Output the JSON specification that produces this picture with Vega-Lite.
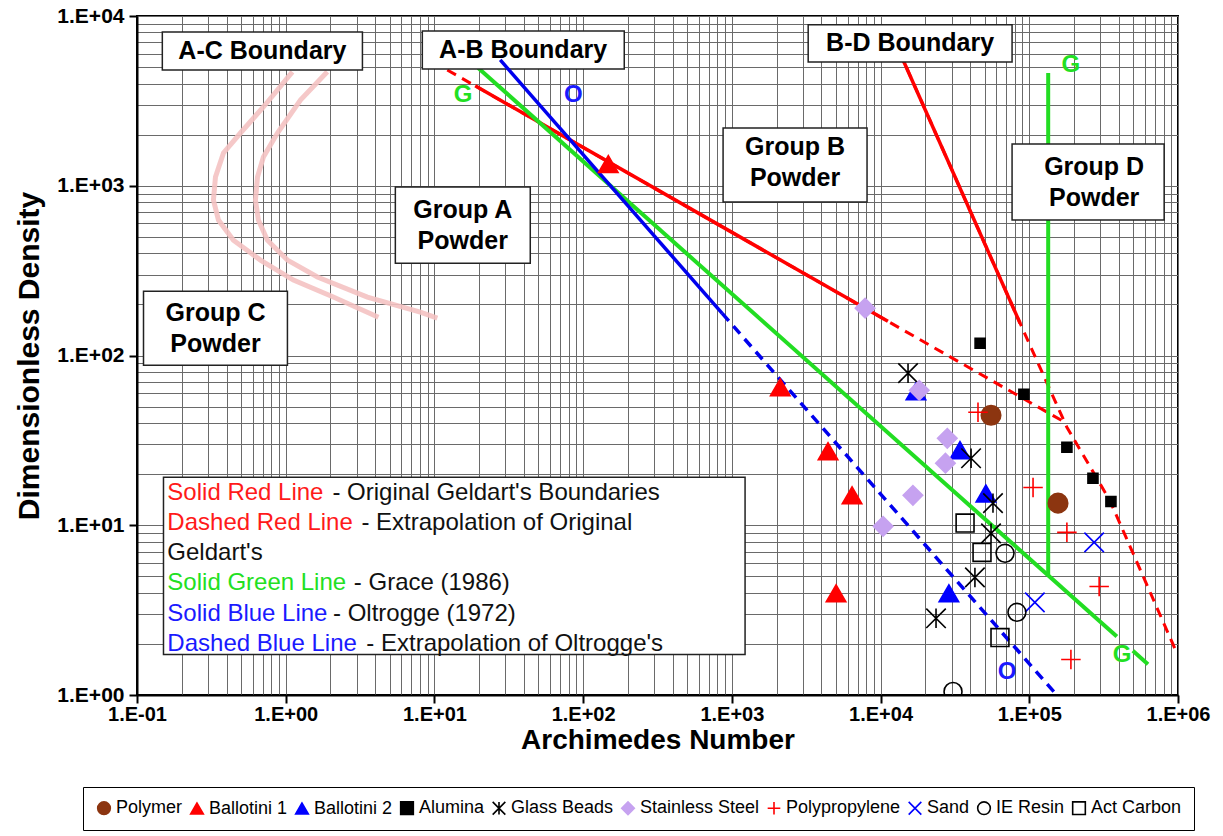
{
  "$schema": "https://vega.github.io/schema/vega-lite/v6.json",
  "width": 1041,
  "height": 679,
  "autosize": {"type": "none"},
  "padding": {"left": 137, "top": 16, "right": 45, "bottom": 141},
  "background": "white",
  "datasets": {
    "lines": [
      {"line": "AC", "seg": "AC1", "i": 1, "x": 1.109, "y": 4690},
      {"line": "AC", "seg": "AC1", "i": 2, "x": 0.708, "y": 2911},
      {"line": "AC", "seg": "AC1", "i": 3, "x": 0.496, "y": 2046},
      {"line": "AC", "seg": "AC1", "i": 4, "x": 0.3815, "y": 1560},
      {"line": "AC", "seg": "AC1", "i": 5, "x": 0.337, "y": 1125},
      {"line": "AC", "seg": "AC1", "i": 6, "x": 0.3266, "y": 824},
      {"line": "AC", "seg": "AC1", "i": 7, "x": 0.353, "y": 628},
      {"line": "AC", "seg": "AC1", "i": 8, "x": 0.445, "y": 478},
      {"line": "AC", "seg": "AC1", "i": 9, "x": 0.676, "y": 365},
      {"line": "AC", "seg": "AC1", "i": 10, "x": 1.127, "y": 278},
      {"line": "AC", "seg": "AC1", "i": 11, "x": 2.09, "y": 221},
      {"line": "AC", "seg": "AC1", "i": 12, "x": 4.2, "y": 168},
      {"line": "AC", "seg": "AC2", "i": 1, "x": 1.905, "y": 4690},
      {"line": "AC", "seg": "AC2", "i": 2, "x": 1.256, "y": 3200},
      {"line": "AC", "seg": "AC2", "i": 3, "x": 0.88, "y": 2046},
      {"line": "AC", "seg": "AC2", "i": 4, "x": 0.708, "y": 1476},
      {"line": "AC", "seg": "AC2", "i": 5, "x": 0.646, "y": 1125},
      {"line": "AC", "seg": "AC2", "i": 6, "x": 0.626, "y": 824},
      {"line": "AC", "seg": "AC2", "i": 7, "x": 0.655, "y": 628},
      {"line": "AC", "seg": "AC2", "i": 8, "x": 0.753, "y": 478},
      {"line": "AC", "seg": "AC2", "i": 9, "x": 1.027, "y": 365},
      {"line": "AC", "seg": "AC2", "i": 10, "x": 1.633, "y": 290},
      {"line": "AC", "seg": "AC2", "i": 11, "x": 3.54, "y": 221},
      {"line": "AC", "seg": "AC2", "i": 12, "x": 8.04, "y": 180},
      {"line": "AC", "seg": "AC2", "i": 13, "x": 10.46, "y": 166},
      {"line": "GeldartSolid", "seg": "AB", "i": 1, "x": 18.8, "y": 3880},
      {"line": "GeldartSolid", "seg": "AB", "i": 2, "x": 11200, "y": 159},
      {"line": "GeldartSolid", "seg": "BD", "i": 1, "x": 13500, "y": 6060},
      {"line": "GeldartSolid", "seg": "BD", "i": 2, "x": 86700, "y": 155},
      {"line": "GeldartDashed", "seg": "AB", "i": 1, "x": 12.2, "y": 4810},
      {"line": "GeldartDashed", "seg": "AB", "i": 2, "x": 178000, "y": 39.9},
      {"line": "GeldartDashed", "seg": "BD", "i": 1, "x": 13500, "y": 6060},
      {"line": "GeldartDashed", "seg": "BD", "i": 2, "x": 86700, "y": 155},
      {"line": "GeldartDashed", "seg": "BD", "i": 3, "x": 179000, "y": 37.8},
      {"line": "GeldartDashed", "seg": "BD", "i": 4, "x": 348000, "y": 14.0},
      {"line": "GeldartDashed", "seg": "BD", "i": 5, "x": 984000, "y": 1.76},
      {"line": "Grace", "seg": "diag1", "i": 1, "x": 19.7, "y": 4940},
      {"line": "Grace", "seg": "diag1", "i": 2, "x": 388000, "y": 2.21},
      {"line": "Grace", "seg": "diag2", "i": 1, "x": 497000, "y": 1.82},
      {"line": "Grace", "seg": "diag2", "i": 2, "x": 628000, "y": 1.52},
      {"line": "Grace", "seg": "vert", "i": 1, "x": 134000, "y": 4620},
      {"line": "Grace", "seg": "vert", "i": 2, "x": 134000, "y": 5.1},
      {"line": "OltroggeSolid", "seg": "O1", "i": 1, "x": 27.7, "y": 5510},
      {"line": "OltroggeSolid", "seg": "O1", "i": 2, "x": 861, "y": 177},
      {"line": "OltroggeDashed", "seg": "O2", "i": 1, "x": 861, "y": 177},
      {"line": "OltroggeDashed", "seg": "O2", "i": 2, "x": 153000, "y": 1.0}
    ],
    "boxes": [
      {"name": "A-C", "x": 0.148, "x2": 3.28, "y": 4810, "y2": 8060},
      {"name": "A-B", "x": 8.29, "x2": 189, "y": 4876, "y2": 8170},
      {"name": "B-D", "x": 3260, "x2": 76600, "y": 5360, "y2": 8870},
      {"name": "Group A", "x": 5.46, "x2": 44.1, "y": 350, "y2": 983},
      {"name": "Group B", "x": 873, "x2": 8110, "y": 801, "y2": 2188},
      {"name": "Group C", "x": 0.1106, "x2": 1.027, "y": 87.7, "y2": 239},
      {"name": "Group D", "x": 76600, "x2": 807000, "y": 628, "y2": 1762},
      {"name": "Key", "x": 0.1507, "x2": 1227, "y": 1.733, "y2": 19.2}
    ],
    "labels": [
      {"kind": "box", "line": "note", "text": "A-C Boundary", "x": 0.697, "y": 6230},
      {"kind": "box", "line": "note", "text": "A-B Boundary", "x": 39.5, "y": 6310},
      {"kind": "box", "line": "note", "text": "B-D Boundary", "x": 15800, "y": 6940},
      {"kind": "box2", "line": "note", "text": "Group A\nPowder", "x": 15.5, "y": 587},
      {"kind": "box2", "line": "note", "text": "Group B\nPowder", "x": 2660, "y": 1380},
      {"kind": "box2", "line": "note", "text": "Group C\nPowder", "x": 0.337, "y": 145},
      {"kind": "box2", "line": "note", "text": "Group D\nPowder", "x": 273000, "y": 1052},
      {"kind": "tag", "line": "Grace", "text": "G", "x": 15.6, "y": 3428},
      {"kind": "tag", "line": "Oltrogge", "text": "O", "x": 85.9, "y": 3428},
      {"kind": "tag", "line": "Grace", "text": "G", "x": 190500, "y": 5150},
      {"kind": "tag", "line": "Grace", "text": "G", "x": 420000, "y": 1.73},
      {"kind": "tag", "line": "Oltrogge", "text": "O", "x": 70800, "y": 1.357},
      {"kind": "key", "line": "Geldart", "text": "Solid Red Line", "x": 0.16, "y": 15.4},
      {"kind": "key", "line": "note", "text": "- Original Geldart's Boundaries", "x": 2.06, "y": 15.4},
      {"kind": "key", "line": "Geldart", "text": "Dashed Red Line", "x": 0.16, "y": 10.26},
      {"kind": "key", "line": "note", "text": "- Extrapolation of Original", "x": 3.23, "y": 10.26},
      {"kind": "key", "line": "note", "text": "Geldart's", "x": 0.16, "y": 6.83},
      {"kind": "key", "line": "Grace", "text": "Solid Green Line", "x": 0.16, "y": 4.54},
      {"kind": "key", "line": "note", "text": "- Grace (1986)", "x": 2.87, "y": 4.54},
      {"kind": "key", "line": "Oltrogge", "text": "Solid Blue Line", "x": 0.16, "y": 3.02},
      {"kind": "key", "line": "note", "text": "- Oltrogge (1972)", "x": 2.08, "y": 3.02},
      {"kind": "key", "line": "Oltrogge", "text": "Dashed Blue Line", "x": 0.16, "y": 2.01},
      {"kind": "key", "line": "note", "text": "- Extrapolation of Oltrogge's", "x": 3.485, "y": 2.01}
    ],
    "points": [
      {"material": "Polymer", "x": 55300, "y": 44.5},
      {"material": "Polymer", "x": 156000, "y": 13.5},
      {"material": "Ballotini 1", "x": 147.6, "y": 1343},
      {"material": "Ballotini 1", "x": 2115, "y": 65.0},
      {"material": "Ballotini 1", "x": 4436, "y": 27.3},
      {"material": "Ballotini 1", "x": 6430, "y": 15.0},
      {"material": "Ballotini 1", "x": 5020, "y": 3.97},
      {"material": "Ballotini 2", "x": 17300, "y": 61.6},
      {"material": "Ballotini 2", "x": 34200, "y": 27.7},
      {"material": "Ballotini 2", "x": 51100, "y": 15.4},
      {"material": "Ballotini 2", "x": 28800, "y": 3.97},
      {"material": "Alumina", "x": 46700, "y": 118},
      {"material": "Alumina", "x": 92000, "y": 59.1},
      {"material": "Alumina", "x": 179000, "y": 28.8},
      {"material": "Alumina", "x": 268000, "y": 18.9},
      {"material": "Alumina", "x": 354000, "y": 13.8},
      {"material": "Glass Beads", "x": 15300, "y": 78.7},
      {"material": "Glass Beads", "x": 40600, "y": 24.8},
      {"material": "Glass Beads", "x": 57000, "y": 13.5},
      {"material": "Glass Beads", "x": 55300, "y": 8.96},
      {"material": "Glass Beads", "x": 43100, "y": 4.93},
      {"material": "Glass Beads", "x": 23600, "y": 2.83},
      {"material": "Stainless Steel", "x": 7870, "y": 190},
      {"material": "Stainless Steel", "x": 18200, "y": 62.4},
      {"material": "Stainless Steel", "x": 28100, "y": 32.5},
      {"material": "Stainless Steel", "x": 27300, "y": 23.2},
      {"material": "Stainless Steel", "x": 16500, "y": 15.0},
      {"material": "Stainless Steel", "x": 10400, "y": 9.85},
      {"material": "Polypropylene", "x": 45200, "y": 46.3},
      {"material": "Polypropylene", "x": 106000, "y": 16.7},
      {"material": "Polypropylene", "x": 179000, "y": 9.08},
      {"material": "Polypropylene", "x": 295000, "y": 4.36},
      {"material": "Polypropylene", "x": 190500, "y": 1.62},
      {"material": "Sand", "x": 273000, "y": 7.93},
      {"material": "Sand", "x": 109000, "y": 3.51},
      {"material": "IE Resin", "x": 68700, "y": 6.83},
      {"material": "IE Resin", "x": 82600, "y": 3.07},
      {"material": "IE Resin", "x": 30700, "y": 1.05},
      {"material": "Act Carbon", "x": 37000, "y": 10.3},
      {"material": "Act Carbon", "x": 48100, "y": 6.92},
      {"material": "Act Carbon", "x": 63500, "y": 2.18}
    ]
  },
  "encoding": {
    "x": {
      "field": "x", "type": "quantitative",
      "scale": {"type": "log", "domain": [0.1, 1000000], "nice": false},
      "axis": {
        "title": "Archimedes Number",
        "values": [0.1,0.2,0.3,0.4,0.5,0.6,0.7,0.8,0.9,1,2,3,4,5,6,7,8,9,10,20,30,40,50,60,70,80,90,100,200,300,400,500,600,700,800,900,1000,2000,3000,4000,5000,6000,7000,8000,9000,10000,20000,30000,40000,50000,60000,70000,80000,90000,100000,200000,300000,400000,500000,600000,700000,800000,900000,1000000],
        "labelExpr": "abs(log(datum.value)/LN10 - round(log(datum.value)/LN10)) < 0.001 ? '1.E' + (datum.value >= 1 ? '+' : '-') + format(abs(round(log(datum.value)/LN10)), '02d') : ''",
        "tickOpacity": {"condition": {"test": "abs(log(datum.value)/LN10 - round(log(datum.value)/LN10)) < 0.001", "value": 1}, "value": 0},
        "tickSize": 8,
        "labelPadding": 1,
        "labelFontSize": 20,
        "titlePadding": 2,
        "titleFontSize": 28
      }
    },
    "y": {
      "field": "y", "type": "quantitative",
      "scale": {"type": "log", "domain": [1, 10000], "nice": false},
      "axis": {
        "title": "Dimensionless Density",
        "values": [1,2,3,4,5,6,7,8,9,10,20,30,40,50,60,70,80,90,100,200,300,400,500,600,700,800,900,1000,2000,3000,4000,5000,6000,7000,8000,9000,10000],
        "labelExpr": "abs(log(datum.value)/LN10 - round(log(datum.value)/LN10)) < 0.001 ? '1.E' + (datum.value >= 1 ? '+' : '-') + format(abs(round(log(datum.value)/LN10)), '02d') : ''",
        "tickOpacity": {"condition": {"test": "abs(log(datum.value)/LN10 - round(log(datum.value)/LN10)) < 0.001", "value": 1}, "value": 0},
        "tickSize": 8,
        "labelPadding": 5,
        "labelFontSize": 21,
        "titlePadding": 12,
        "titleFontSize": 30
      }
    }
  },
  "layer": [
    {
      "data": {"name": "lines"},
      "transform": [{"filter": "datum.line === 'AC'"}],
      "mark": {"type": "line", "color": "#f4c2c2", "strokeWidth": 5, "opacity": 0.9, "clip": true},
      "encoding": {"detail": {"field": "seg"}, "order": {"field": "i", "type": "quantitative"}}
    },
    {
      "data": {"name": "lines"},
      "transform": [{"filter": "datum.line === 'GeldartDashed'"}],
      "mark": {"type": "line", "color": "#ff0000", "strokeWidth": 3, "strokeDash": [10, 7], "clip": true},
      "encoding": {"detail": {"field": "seg"}, "order": {"field": "i", "type": "quantitative"}}
    },
    {
      "data": {"name": "lines"},
      "transform": [{"filter": "datum.line === 'GeldartSolid'"}],
      "mark": {"type": "line", "color": "#ff0000", "strokeWidth": 3.5, "clip": true},
      "encoding": {"detail": {"field": "seg"}, "order": {"field": "i", "type": "quantitative"}}
    },
    {
      "data": {"name": "lines"},
      "transform": [{"filter": "datum.line === 'Grace'"}],
      "mark": {"type": "line", "color": "#22dd22", "strokeWidth": 4, "clip": true},
      "encoding": {"detail": {"field": "seg"}, "order": {"field": "i", "type": "quantitative"}}
    },
    {
      "data": {"name": "boxes"},
      "mark": {"type": "rect", "fill": "white", "stroke": "#222222", "strokeWidth": 1.5},
      "encoding": {"x2": {"field": "x2"}, "y2": {"field": "y2"}}
    },
    {
      "data": {"name": "lines"},
      "transform": [{"filter": "datum.line === 'OltroggeSolid'"}],
      "mark": {"type": "line", "color": "#0000ee", "strokeWidth": 3.5, "clip": true},
      "encoding": {"detail": {"field": "seg"}, "order": {"field": "i", "type": "quantitative"}}
    },
    {
      "data": {"name": "lines"},
      "transform": [{"filter": "datum.line === 'OltroggeDashed'"}],
      "mark": {"type": "line", "color": "#0000ee", "strokeWidth": 3.5, "strokeDash": [10, 7], "clip": true},
      "encoding": {"detail": {"field": "seg"}, "order": {"field": "i", "type": "quantitative"}}
    },
    {
      "data": {"name": "points"},
      "transform": [{"filter": "datum.material !== 'Alumina' && datum.material !== 'IE Resin' && datum.material !== 'Act Carbon'"}],
      "mark": {"type": "point", "opacity": 1, "strokeWidth": 1.6, "size": 380, "clip": true},
      "encoding": {
        "shape": {"field": "material", "type": "nominal", "scale": {"domain": ["Polymer","Ballotini 1","Ballotini 2","Alumina","Glass Beads","Stainless Steel","Polypropylene","Sand","IE Resin","Act Carbon"], "range": ["circle","triangle-up","triangle-up","square","M-1,-1L1,1M-1,1L1,-1M0,-1L0,1","diamond","M-1,0L1,0M0,-1L0,1","M-1,-1L1,1M-1,1L1,-1","circle","square"]}},
        "fill": {"field": "material", "type": "nominal", "scale": {"domain": ["Polymer","Ballotini 1","Ballotini 2","Alumina","Glass Beads","Stainless Steel","Polypropylene","Sand","IE Resin","Act Carbon"], "range": ["#8c3510","#ff0000","#0000ff","#000000","transparent","#c6a2f0","transparent","transparent","transparent","transparent"]}},
        "stroke": {"field": "material", "type": "nominal", "scale": {"domain": ["Polymer","Ballotini 1","Ballotini 2","Alumina","Glass Beads","Stainless Steel","Polypropylene","Sand","IE Resin","Act Carbon"], "range": ["#8c3510","#ff0000","#0000ff","#000000","#000000","#c6a2f0","#ff0000","#0000ff","#000000","#000000"]}}
      }
    },
    {
      "data": {"name": "points"},
      "transform": [{"filter": "datum.material === 'Alumina'"}],
      "mark": {"type": "point", "opacity": 1, "strokeWidth": 1.6, "size": 100, "clip": true},
      "encoding": {
        "shape": {"field": "material", "type": "nominal"},
        "fill": {"field": "material", "type": "nominal"},
        "stroke": {"field": "material", "type": "nominal"}
      }
    },
    {
      "data": {"name": "points"},
      "transform": [{"filter": "datum.material === 'IE Resin' || datum.material === 'Act Carbon'"}],
      "mark": {"type": "point", "opacity": 1, "strokeWidth": 1.6, "size": 320, "clip": true},
      "encoding": {
        "shape": {"field": "material", "type": "nominal"},
        "fill": {"field": "material", "type": "nominal"},
        "stroke": {"field": "material", "type": "nominal"}
      }
    },
    {
      "data": {"name": "labels"},
      "transform": [{"filter": "datum.kind === 'box'"}],
      "mark": {"type": "text", "font": "Liberation Sans", "fontWeight": "bold", "fontSize": 25, "align": "center", "baseline": "middle", "color": "black"},
      "encoding": {"text": {"field": "text"}}
    },
    {
      "data": {"name": "labels"},
      "transform": [{"filter": "datum.kind === 'box2'"}],
      "mark": {"type": "text", "font": "Liberation Sans", "fontWeight": "bold", "fontSize": 25, "align": "center", "baseline": "middle", "lineBreak": "\n", "lineHeight": 31, "dy": -15.5, "color": "black"},
      "encoding": {"text": {"field": "text"}}
    },
    {
      "data": {"name": "labels"},
      "transform": [{"filter": "datum.kind === 'tag'"}],
      "mark": {"type": "text", "font": "Liberation Sans", "fontWeight": "bold", "fontSize": 24, "align": "center", "baseline": "middle"},
      "encoding": {"text": {"field": "text"}, "color": {"field": "line", "type": "nominal", "scale": {"domain": ["Geldart","Grace","Oltrogge","note"], "range": ["#ff1a1a","#22e022","#1a1aff","#111111"]}, "legend": null}}
    },
    {
      "data": {"name": "labels"},
      "transform": [{"filter": "datum.kind === 'key'"}],
      "mark": {"type": "text", "font": "Liberation Sans", "fontSize": 24, "align": "left", "baseline": "middle"},
      "encoding": {"text": {"field": "text"}, "color": {"field": "line", "type": "nominal", "legend": null}}
    }
  ],
  "config": {
    "view": {"stroke": "black", "strokeWidth": 2},
    "font": "Liberation Sans",
    "axis": {
      "grid": true,
      "gridColor": "#6a6a6a",
      "gridWidth": 1,
      "gridOpacity": 1,
      "domainColor": "black",
      "domainWidth": 2,
      "tickColor": "black",
      "tickWidth": 2,
      "labelFont": "Liberation Sans",
      "labelFontWeight": "bold",
      "labelColor": "black",
      "labelOverlap": false,
      "labelFlush": false,
      "labelBound": false,
      "titleFont": "Liberation Sans",
      "titleFontWeight": "bold",
      "titleColor": "black"
    },
    "legend": {
      "orient": "none",
      "legendX": -54,
      "legendY": 771,
      "direction": "horizontal",
      "columns": 10,
      "title": null,
      "strokeColor": "black",
      "fillColor": "white",
      "padding": 12,
      "labelFont": "Liberation Sans",
      "labelFontSize": 18,
      "labelColor": "black",
      "labelOffset": 3,
      "columnPadding": 4,
      "symbolSize": 160,
      "symbolStrokeWidth": 1.6,
      "labelLimit": 300
    }
  }
}
